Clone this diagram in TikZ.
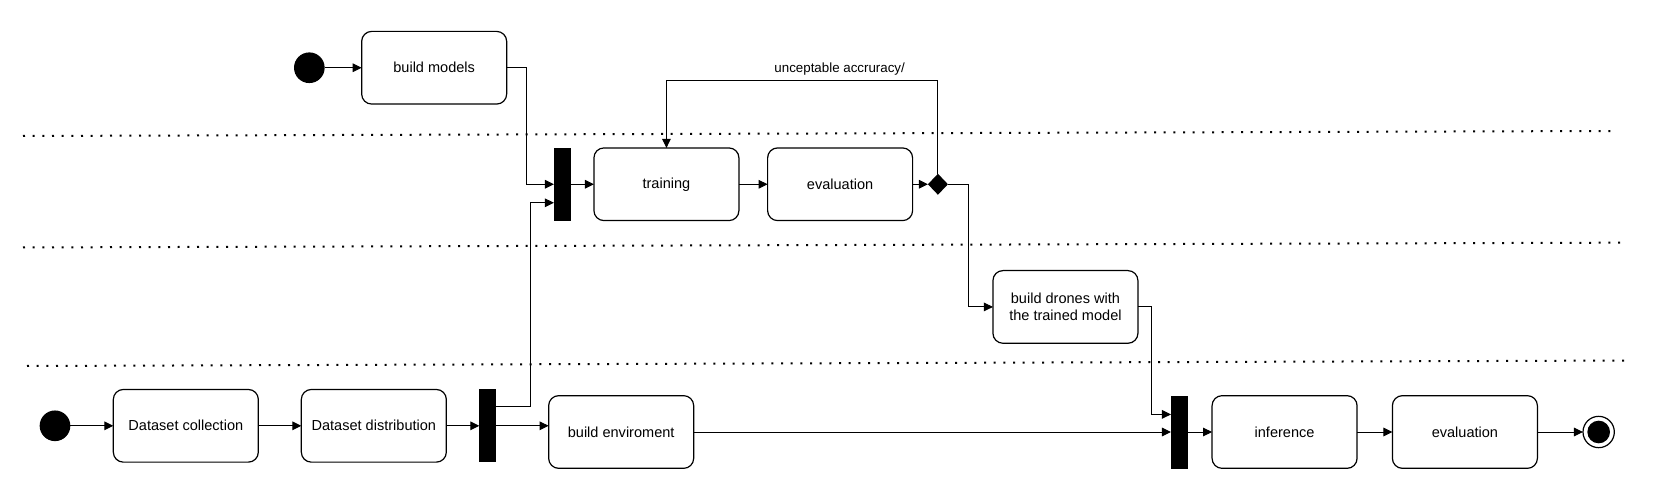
\documentclass[tikz,border=0pt]{standalone}
\usepackage{fontspec}
\setmainfont{Liberation Sans}
\usepackage{tikz}
\usetikzlibrary{shapes.geometric,positioning,arrows.meta}

\begin{document}
\begin{tikzpicture}[
        activity/.style={draw, rounded corners=7.5pt, minimum width=108.75pt, minimum height=54.5pt, outer sep=0pt, align=center, line width=0.9pt, font=\fontsize{10.9}{13.3}\selectfont},
        forkbar/.style={fill, minimum width=12.5pt, minimum height=54.75pt, inner sep=0pt, outer sep=0pt},
        startdot/.style={circle, fill, minimum size=23pt, inner sep=0pt, outer sep=0pt},
        enddot/.style={circle, draw, line width=0.9pt, minimum size=23.5pt, inner sep=0pt, outer sep=0pt,
            path picture={\fill (path picture bounding box.center) circle (8.5pt);}},
        decision/.style={diamond, fill, minimum width=15pt, minimum height=15.75pt, inner sep=0pt, outer sep=0pt},
        swimlane/.style={line width=1.5pt, dash pattern=on 1.5pt off 5.75pt},
        line width=0.75pt,
        >={Triangle[length=6.8pt, width=6.5pt]}
    ]
        \useasboundingbox (0,0) rectangle (1242pt,-376.5pt);

        % lanes
        \draw[swimlane] (17.25pt,-102pt) -- (1209pt,-98.25pt);
        \draw[swimlane] (17.25pt,-185.6pt) -- (1215.75pt,-182pt);
        \draw[swimlane] (20.25pt,-274.5pt) -- (1218.75pt,-270.4pt);

        % model lane
        \node[startdot] (start1) at (232pt,-50.8pt) {};
        \node[activity, right=27.75pt of start1] (bm) {build models};

        % training lane
        \node[forkbar] (fork1) at (421.7pt,-138.2pt) {};
        \node[activity, right=17.5pt of fork1] (train) {training};
        \node[activity, right=21.5pt of train] (evalA) {evaluation};
        \node[decision, right=11.5pt of evalA] (dec) {};

        % drone lane
        \node[activity, right=33.75pt of dec, yshift=-92pt] (drones) {build drones with\\the trained model};

        % data lane
        \node[startdot] (start2) at (41.25pt,-319.35pt) {};
        \node[activity, right=32.25pt of start2] (dcol) {Dataset collection};
        \node[activity, right=32.25pt of dcol] (ddis) {Dataset distribution};
        \node[forkbar, right=24.75pt of ddis] (fork2) {};
        \node[activity, right=39.5pt of fork2, yshift=-4.65pt] (env) {build enviroment};
        \node[forkbar, right=358pt of env] (fork3) {};
        \node[activity, right=18.3pt of fork3] (infer) {inference};
        \node[activity, right=26.5pt of infer] (evalB) {evaluation};
        \node[enddot, right=34.2pt of evalB] (stop) {};

        % flows
        \draw[->] (start1) -- (bm);
        \draw[->] (bm.east) -- ++(15pt,0) |- (fork1.west);
        \draw[->] ([yshift=14.3pt]fork2.east) -- ++(25.7pt,0) |- ([yshift=-13.9pt]fork1.west);
        \draw[->] (fork1) -- (train);
        \draw[->] (train) -- (evalA);
        \draw[->] (evalA) -- (dec);
        \draw[->] (dec.north) -- ++(0,70.1pt) -| node[pos=0.181, above, font=\fontsize{10}{12}\selectfont] {unceptable accruracy/} (train.north);
        \draw[->] (dec.east) -- ++(15.75pt,0) |- (drones.west);
        \draw[->] (drones.east) -- ++(10pt,0) |- ([yshift=13.2pt]fork3.west);

        \draw[->] (start2) -- (dcol);
        \draw[->] (dcol) -- (ddis);
        \draw[->] (ddis) -- (fork2);
        \draw[->] (fork2.east) -- (fork2.east -| env.west);
        \draw[->] (env.east) -- (env.east -| fork3.west);
        \draw[->] (fork3) -- (infer);
        \draw[->] (infer) -- (evalB);
        \draw[->] (evalB) -- (stop);
    \end{tikzpicture}
\end{document}
